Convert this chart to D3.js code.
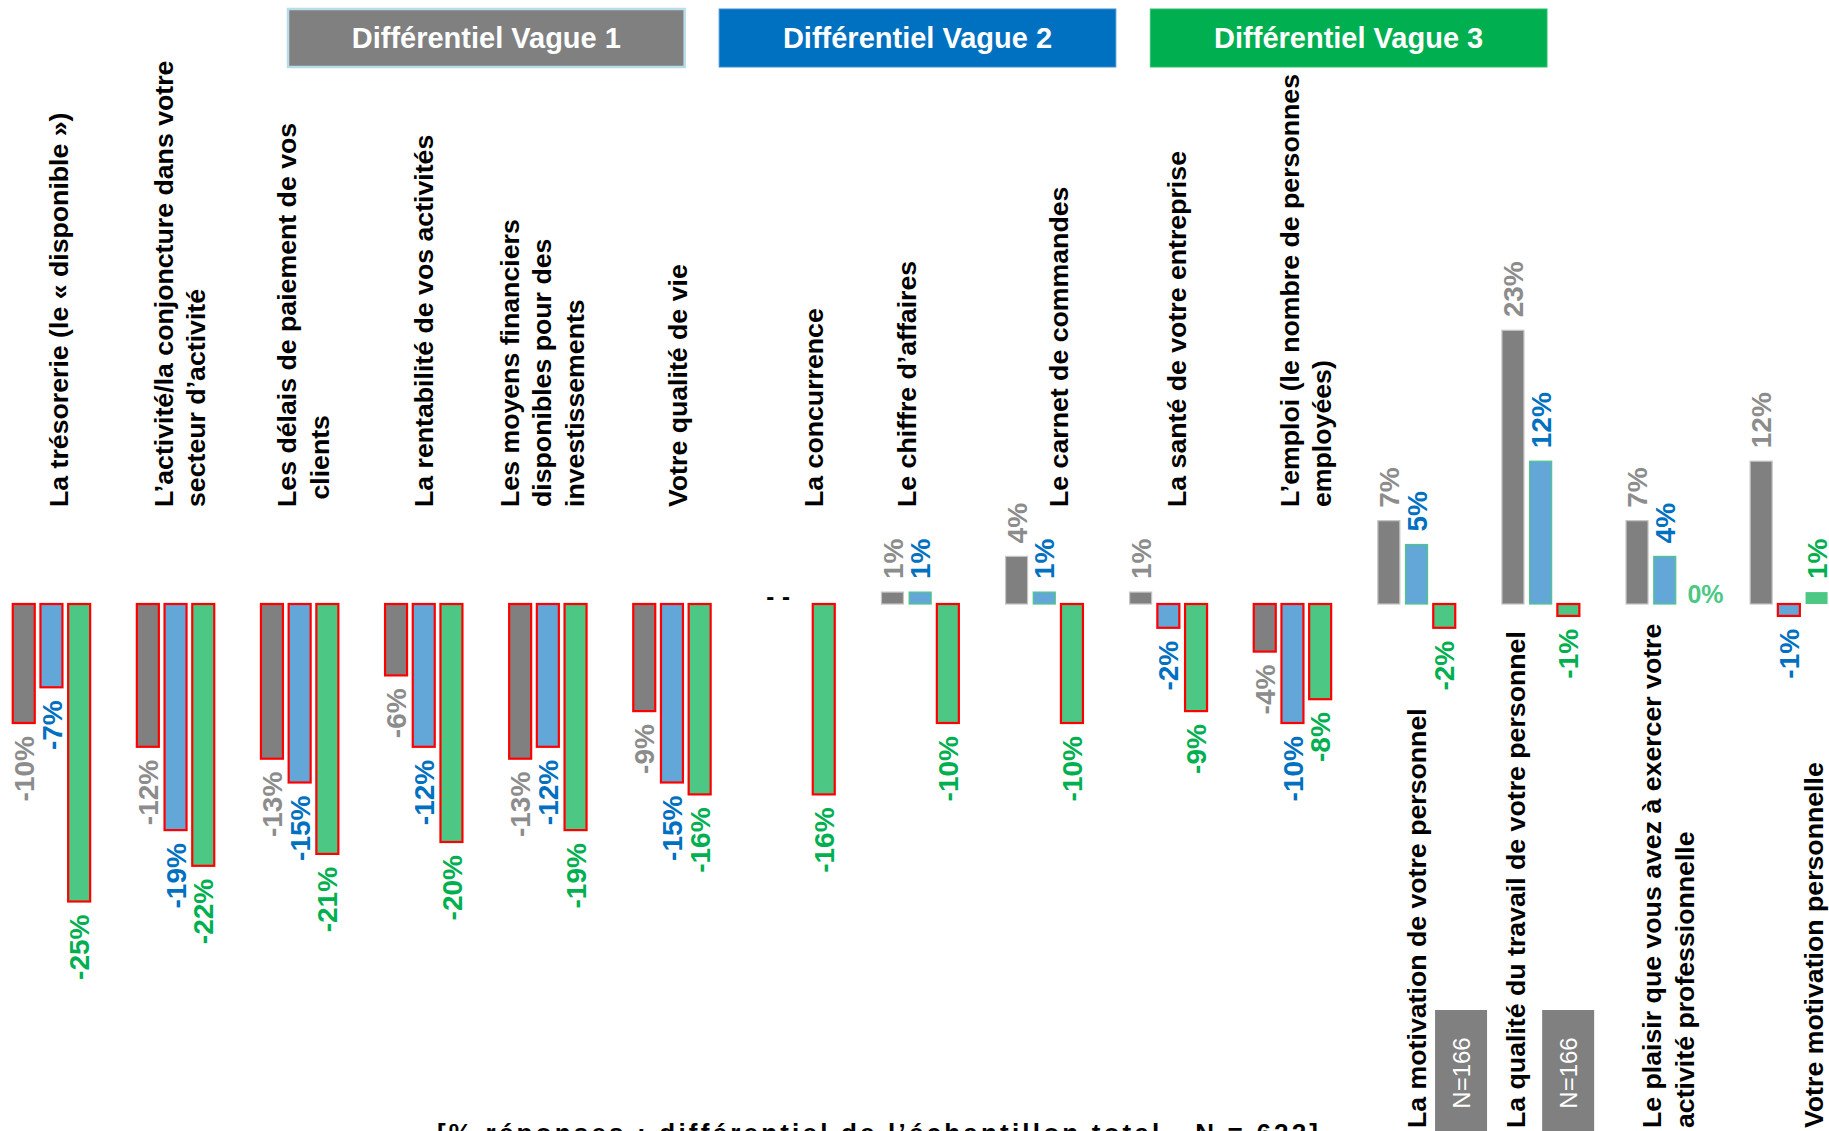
<!DOCTYPE html>
<html>
<head>
<meta charset="utf-8">
<script src="https://cdn.jsdelivr.net/npm/d3@7"></script>
<style>
  html, body { margin: 0; padding: 0; background: #ffffff; overflow: hidden; }
  svg { display: block; font-family: "Liberation Sans", Arial, Helvetica, sans-serif; }
</style>
</head>
<body>
<svg id="chart" width="1829" height="1131"></svg>
<script>
// ---------- DATA ----------
const categories = [
  "La trésorerie (le « disponible »)",
  "L’activité/la conjoncture dans votre\nsecteur d’activité",
  "Les délais de paiement de vos\n clients",
  "La rentabilité de vos activités",
  "Les moyens financiers\ndisponibles pour des\ninvestissements",
  "Votre qualité de vie",
  "La concurrence",
  "Le chiffre d’affaires",
  "Le carnet de commandes",
  "La santé de votre entreprise",
  "L’emploi (le nombre de personnes\nemployées)",
  "La motivation de votre personnel",
  "La qualité du travail de votre personnel",
  "Le plaisir que vous avez à exercer votre\nactivité professionnelle",
  "Votre motivation personnelle"
];
const seriesNames = ["Différentiel Vague 1", "Différentiel Vague 2", "Différentiel Vague 3"];
const vague1 = [-10, -12, -13, -6, -13, -9, null, 1, 4, 1, -4, 7, 23, 7, 12];
const vague2 = [-7, -19, -15, -12, -12, -15, null, 1, 1, -2, -10, 5, 12, 4, -1];
const vague3 = [-25, -22, -21, -20, -19, -16, -16, -10, -10, -9, -8, -2, -1, 0, 1];
const sampleNote = "N=166";
const sampleNoteCategories = [
  "La motivation de votre personnel",
  "La qualité du travail de votre personnel"
];
const footnote = "[% réponses : différentiel de l’échantillon total - N = 622]";

// ---------- LAYOUT ----------
const W = 1829, H = 1131;
const svg = d3.select("#chart");
const seriesValues = [vague1, vague2, vague3];
const barFill = ["#808080", "#63a6d8", "#4cc784"];
const labelColor = ["#8c8c8c", "#0070c0", "#00b050"];
const headerFill = ["#808080", "#0070c0", "#00b050"];
const headerStroke = ["#b7dde8", "#3d8fd2", "#2fbf6a"];

const x0 = d3.scaleBand().domain(categories).range([-10.6, -10.6 + 15 * 124.1]).padding(0);
const bw = x0.bandwidth();
const x1 = d3.scaleBand().domain(seriesNames).range([bw / 2 - 38.7, bw / 2 + 38.7]).paddingInner(0.206).paddingOuter(0);
const y = d3.scaleLinear().domain([-25, 23]).range([604 + 25 * 11.9, 604 - 23 * 11.9]);

// headers
const headerX = d3.scaleBand().domain(seriesNames).range([288, 1547]).paddingInner(0.08);
const hdr = svg.append("g").selectAll("g").data(seriesNames).join("g");
hdr.append("rect")
  .attr("x", d => headerX(d)).attr("y", 9)
  .attr("width", headerX.bandwidth()).attr("height", 58)
  .attr("fill", (d, i) => headerFill[i])
  .attr("stroke", (d, i) => headerStroke[i])
  .attr("stroke-width", (d, i) => i === 0 ? 2.5 : 1);
hdr.append("text")
  .attr("x", d => headerX(d) + headerX.bandwidth() / 2).attr("y", 38)
  .attr("dy", "0.36em")
  .attr("text-anchor", "middle")
  .attr("fill", "#ffffff").attr("font-weight", "bold").attr("font-size", 29)
  .text(d => d);

// groups
const rows = categories.map((c, i) => ({ cat: c, vals: seriesValues.map((s, k) => ({ k, v: s[i], name: seriesNames[k] })), i }));
const groups = svg.append("g").selectAll("g").data(rows).join("g")
  .attr("transform", d => `translate(${x0(d.cat)},0)`);

const barStroke = (d) => {
  if (d.v < 0) return "#ff0000";
  if (d.k === 0) return "#c4c4c4";
  if (d.k === 1) return "#4cc784";
  return "none";
};
groups.selectAll("rect").data(d => d.vals.filter(e => e.v !== null && e.v !== 0)).join("rect")
  .attr("x", d => x1(d.name))
  .attr("width", x1.bandwidth())
  .attr("y", d => y(Math.max(0, d.v)))
  .attr("height", d => Math.abs(y(d.v) - y(0)))
  .attr("fill", d => barFill[d.k])
  .attr("stroke", barStroke)
  .attr("stroke-width", d => d.v < 0 ? 2.2 : 1.2);

// value labels (rotated)
groups.selectAll("text.val").data(d => d.vals.filter(e => e.v !== null && e.v !== 0)).join("text")
  .attr("class", "val")
  .attr("transform", d => {
    const cx = x1(d.name) + x1.bandwidth() / 2;
    const yy = d.v < 0 ? y(d.v) + 13 : y(d.v) - 13;
    return `translate(${cx},${yy}) rotate(-90)`;
  })
  .attr("dy", "0.36em")
  .attr("text-anchor", d => d.v < 0 ? "end" : "start")
  .attr("fill", d => labelColor[d.k])
  .attr("font-weight", "bold")
  .attr("font-size", 28)
  .text(d => `${d.v}%`);

// zero value label (horizontal)
groups.selectAll("text.zero").data(d => d.vals.filter(e => e.v === 0)).join("text")
  .attr("class", "zero")
  .attr("x", d => x1(d.name) + 6)
  .attr("y", y(0) - 1)
  .attr("fill", "#4cc784").attr("font-weight", "bold").attr("font-size", 25)
  .text(d => `${d.v}%`);

// missing value marks
groups.selectAll("text.na").data(d => d.vals.filter(e => e.v === null)).join("text")
  .attr("class", "na")
  .attr("x", d => x1(d.name) + x1.bandwidth() / 2 + (d.k === 0 ? 2 : -10))
  .attr("y", y(0) + 1)
  .attr("text-anchor", "middle")
  .attr("fill", "#000").attr("font-weight", "bold").attr("font-size", 24)
  .text("-");

// category labels
const labelShift = [7, 4, 3, 0, -6, 5, 17, -14, 14, 8, 13, 0, -25, 3, 25];
const bottomStart = 11;
groups.append("text")
  .attr("transform", d => {
    const cx = bw / 2 + labelShift[d.i];
    const yy = d.i >= bottomStart ? 1128 : 507;
    return `translate(${cx},${yy}) rotate(-90)`;
  })
  .attr("text-anchor", "start")
  .attr("fill", "#000").attr("font-weight", "bold").attr("font-size", 26.7)
  .each(function (d) {
    const lines = d.cat.split("\n");
    const t = d3.select(this);
    lines.forEach((ln, j) => {
      t.append("tspan")
        .attr("x", 0)
        .attr("dy", j === 0 ? `${0.36 - (lines.length - 1) * 0.61}em` : "1.22em")
        .attr("xml:space", "preserve")
        .text(ln);
    });
  });

// N=166 boxes
const noteShift = { "La motivation de votre personnel": 44.5, "La qualité du travail de votre personnel": 27.5 };
const notes = svg.append("g").selectAll("g").data(sampleNoteCategories).join("g")
  .attr("transform", d => `translate(${x0(d) + bw / 2 + noteShift[d]},0)`);
notes.append("rect")
  .attr("x", -26).attr("y", 1010).attr("width", 52).attr("height", 130)
  .attr("fill", "#808080");
notes.append("text")
  .attr("transform", "translate(0,1073) rotate(-90)")
  .attr("dy", "0.36em").attr("text-anchor", "middle")
  .attr("fill", "#ffffff").attr("font-size", 24)
  .text(sampleNote);

// footnote (cut at bottom edge)
svg.append("text")
  .attr("x", 437).attr("y", 1142)
  .attr("fill", "#000").attr("font-weight", "bold").attr("font-size", 26)
  .attr("textLength", 881).attr("lengthAdjust", "spacing")
  .text(footnote);
</script>
</body>
</html>
